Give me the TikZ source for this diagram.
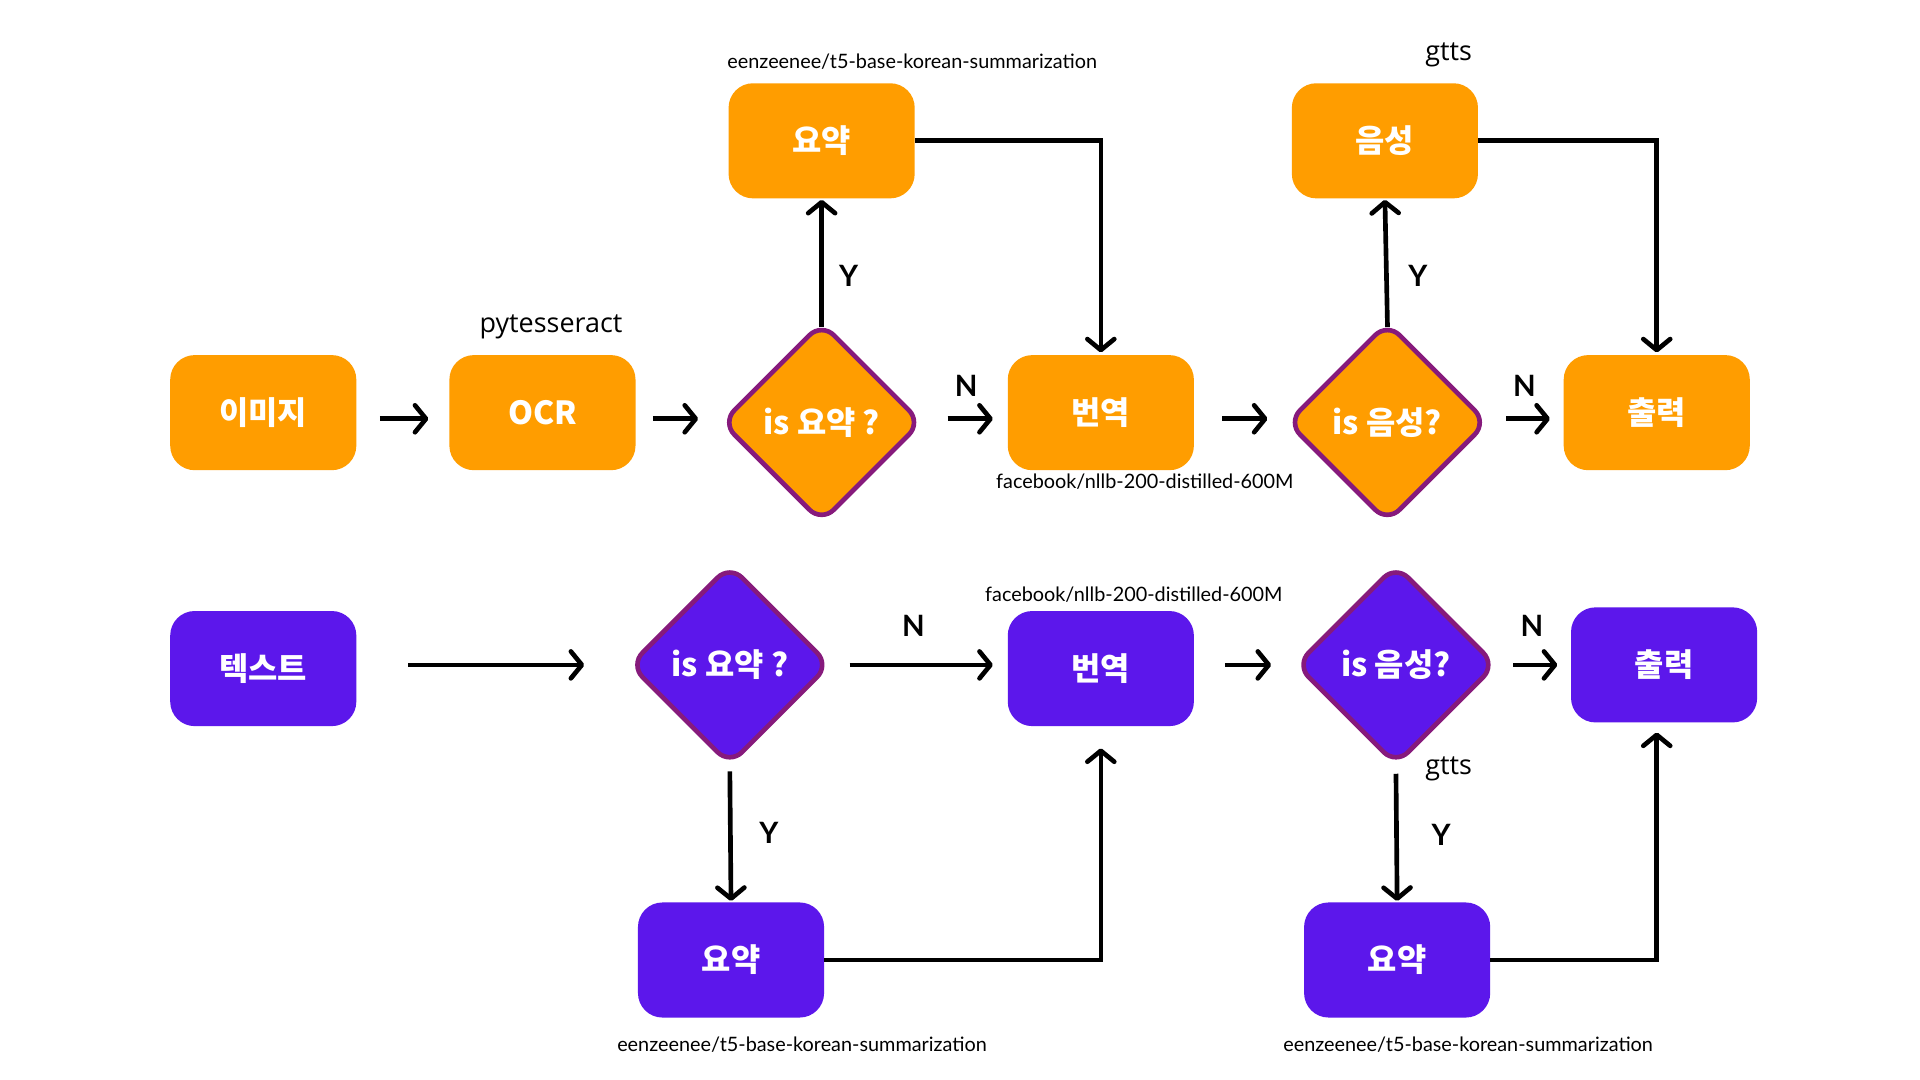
\documentclass[tikz,border=0pt]{standalone}
\usepackage{fontspec}
\setmainfont{Lato}
\newfontfamily\kr{Noto Sans CJK KR}
\newfontfamily\lab{Open Sans}
\usetikzlibrary{arrows.meta,shapes.geometric,calc}
\definecolor{org}{HTML}{FF9D00}
\definecolor{pur}{HTML}{5C17EB}
\definecolor{dborder}{HTML}{861A7C}
\begin{document}
\begin{tikzpicture}[x=1pt,y=-1pt,
  box/.style={rounded corners=20pt, minimum width=152pt, minimum height=94pt, inner sep=0pt, text=white, font=\kr\bfseries\fontsize{26}{30}\selectfont},
  obox/.style={box, fill=org},
  pbox/.style={box, fill=pur},
  dia/.style={diamond, aspect=1, minimum width=164pt, minimum height=164pt, inner sep=0pt, draw=dborder, line width=3.8pt, rounded corners=14pt, text=white, font=\kr\bfseries\fontsize{26}{30}\selectfont},
  arr/.style={-{Straight Barb[length=9pt,width=22pt,line cap=round,line join=round]}, line width=3.8pt},
  small/.style={font=\fontsize{16.2}{19}\selectfont, inner sep=0pt},
  tool/.style={font=\lab\fontsize{22}{26}\selectfont, inner sep=0pt},
  yn/.style={font=\bfseries\fontsize{24}{28}\selectfont, inner sep=0pt}
]
\useasboundingbox[fill=white] (0,0) rectangle (1568,882);

% ---- top row ----
\node[obox] (img) at (215,337) {이미지};
\node[obox] (ocr) at (443,337) {OCR};
\node[dia, fill=org] (q1) at (671,345) {is 요약 ?};
\node[obox] (tr1) at (899,337) {번역};
\node[dia, fill=org] (q2) at (1133,345) {is 음성?};
\node[obox] (out1) at (1353,337) {출력};
\node[obox] (sum1) at (671,115) {요약};
\node[obox] (tts1) at (1131,115) {음성};

\coordinate (r1) at (0,342);
\draw[arr, shorten <=19pt, shorten >=17pt] (img.east |- r1) -- (ocr.west |- r1);
\draw[arr, shorten <=14pt, shorten >=17pt] (ocr.east |- r1) -- (q1.west |- r1);
\draw[arr, shorten <=19pt, shorten >=12pt] (q1.east |- r1) -- (tr1.west |- r1);
\draw[arr, shorten <=23pt, shorten >=14pt] (tr1.east |- r1) -- (q2.west |- r1);
\draw[arr, shorten <=13pt, shorten >=11pt] (q2.east |- r1) -- (out1.west |- r1);

\draw[arr, shorten <=-6pt, shorten >=1pt] (q1.north) -- (sum1.south);
\draw[arr, shorten <=-6pt, shorten >=1pt] (q2.north) -- (tts1.south);
\draw[arr, shorten >=2pt] (sum1.east) -| (tr1.north);
\draw[arr, shorten >=2pt] (tts1.east) -| (out1.north);

\node[small] (l1) at (745,50) {eenzeenee/t5-base-korean-summarization};
\node[tool] (l2) at (1183,45) {gtts};
\node[tool] (l3) at (450,267) {pytesseract};
\node[small] (l4) at (935,393) {facebook/nllb-200-distilled-600M};

\node[yn] (y1) at (693,225) {Y};
\node[yn] (y2) at (1158,225) {Y};
\node[yn] (n1) at (789,315) {N};
\node[yn] (n2) at (1245,315) {N};

% ---- bottom row ----
\node[pbox] (txt) at (215,546) {텍스트};
\node[dia, fill=pur] (q3) at (596,543) {is 요약 ?};
\node[pbox] (tr2) at (899,546) {번역};
\node[dia, fill=pur] (q4) at (1140,543) {is 음성?};
\node[pbox] (out2) at (1359,543) {출력};
\node[pbox] (sum2) at (597,784) {요약};
\node[pbox] (sum3) at (1141,784) {요약};

\coordinate (r2) at (0,543);
\draw[arr, shorten <=42pt, shorten >=35pt] (txt.east |- r2) -- (q3.west |- r2);
\draw[arr, shorten <=14pt, shorten >=12pt] (q3.east |- r2) -- (tr2.west |- r2);
\draw[arr, shorten <=25pt, shorten >=18pt] (tr2.east |- r2) -- (q4.west |- r2);
\draw[arr, shorten <=12pt, shorten >=11pt] (q4.east |- r2) -- (out2.west |- r2);

\draw[arr, shorten <=3pt, shorten >=1pt] (q3.south) -- (sum2.north);
\draw[arr, shorten <=5pt, shorten >=1pt] (q4.south) -- (sum3.north);
\draw[arr, shorten >=18pt] (sum2.east) -| (tr2.south);
\coordinate (o2in) at ($(out2.south)+(-6,0)$);
\draw[arr, shorten >=8pt] (sum3.east) -| (o2in);

\node[small] (l5) at (926,486) {facebook/nllb-200-distilled-600M};
\node[tool] (l6) at (1183,628) {gtts};
\node[small] (l7) at (655,853) {eenzeenee/t5-base-korean-summarization};
\node[small] (l8) at (1199,853) {eenzeenee/t5-base-korean-summarization};

\node[yn] (y3) at (628,680) {Y};
\node[yn] (y4) at (1177,682) {Y};
\node[yn] (n3) at (746,511) {N};
\node[yn] (n4) at (1251,511) {N};
\end{tikzpicture}
\end{document}
